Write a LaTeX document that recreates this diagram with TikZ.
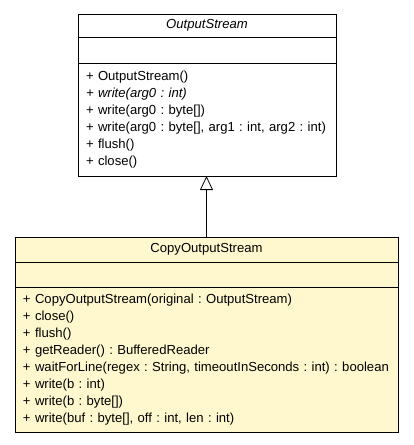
\documentclass[tikz,border=0pt]{standalone}
\usepackage{fontspec}
\setmainfont{Liberation Sans}
\usepackage{tikz}
\usetikzlibrary{positioning, arrows.meta}
\definecolor{classyellow}{HTML}{FFF8CE}
\frenchspacing

\begin{document}
\begin{tikzpicture}[x=1pt, y=-1pt,
	part/.style={draw, line width=0.8pt, inner sep=0pt, outer sep=0pt, font=\fontsize{13.1}{17}\selectfont},
	ops/.style={part, inner xsep=8pt, align=left}]
	\useasboundingbox (0,0) rectangle (413,445);

	% Superclass
	\node[part, anchor=north west, minimum width=258pt, minimum height=23pt] (osTitle) at (78,14) {\textit{OutputStream}};
	\node[part, minimum width=258pt, minimum height=26pt, below=0pt of osTitle] (osAttrs) {};
	\node[ops, text width=242pt, minimum height=113pt, below=0pt of osAttrs] (osOps) {%
		+ OutputStream()\\
		\textit{+ write(arg0 : int)}\\
		+ write(arg0 : byte[])\\
		+ write(arg0 : byte[], arg1 : int, arg2 : int)\\
		+ flush()\\
		+ close()};

	% Subclass
	\node[part, fill=classyellow, anchor=north west, minimum width=383pt, minimum height=25pt] (cosTitle) at (15,237) {CopyOutputStream};
	\node[part, fill=classyellow, minimum width=383pt, minimum height=25pt, below=0pt of cosTitle] (cosAttrs) {};
	\node[ops, fill=classyellow, text width=367pt, minimum height=145pt, below=0pt of cosAttrs] (cosOps) {%
		+ CopyOutputStream(original : OutputStream)\\
		+ close()\\
		+ flush()\\
		+ getReader() : BufferedReader\\
		+ waitForLine(regex : String, timeoutInSeconds : int) : boolean\\
		+ write(b : int)\\
		+ write(b : byte[])\\
		+ write(buf : byte[], off : int, len : int)};

	% Generalization
	\draw[-{Triangle[open, length=14pt, width=13pt]}, line width=0.8pt] (cosTitle.north) -- (cosTitle.north |- osOps.south);
\end{tikzpicture}
\end{document}
